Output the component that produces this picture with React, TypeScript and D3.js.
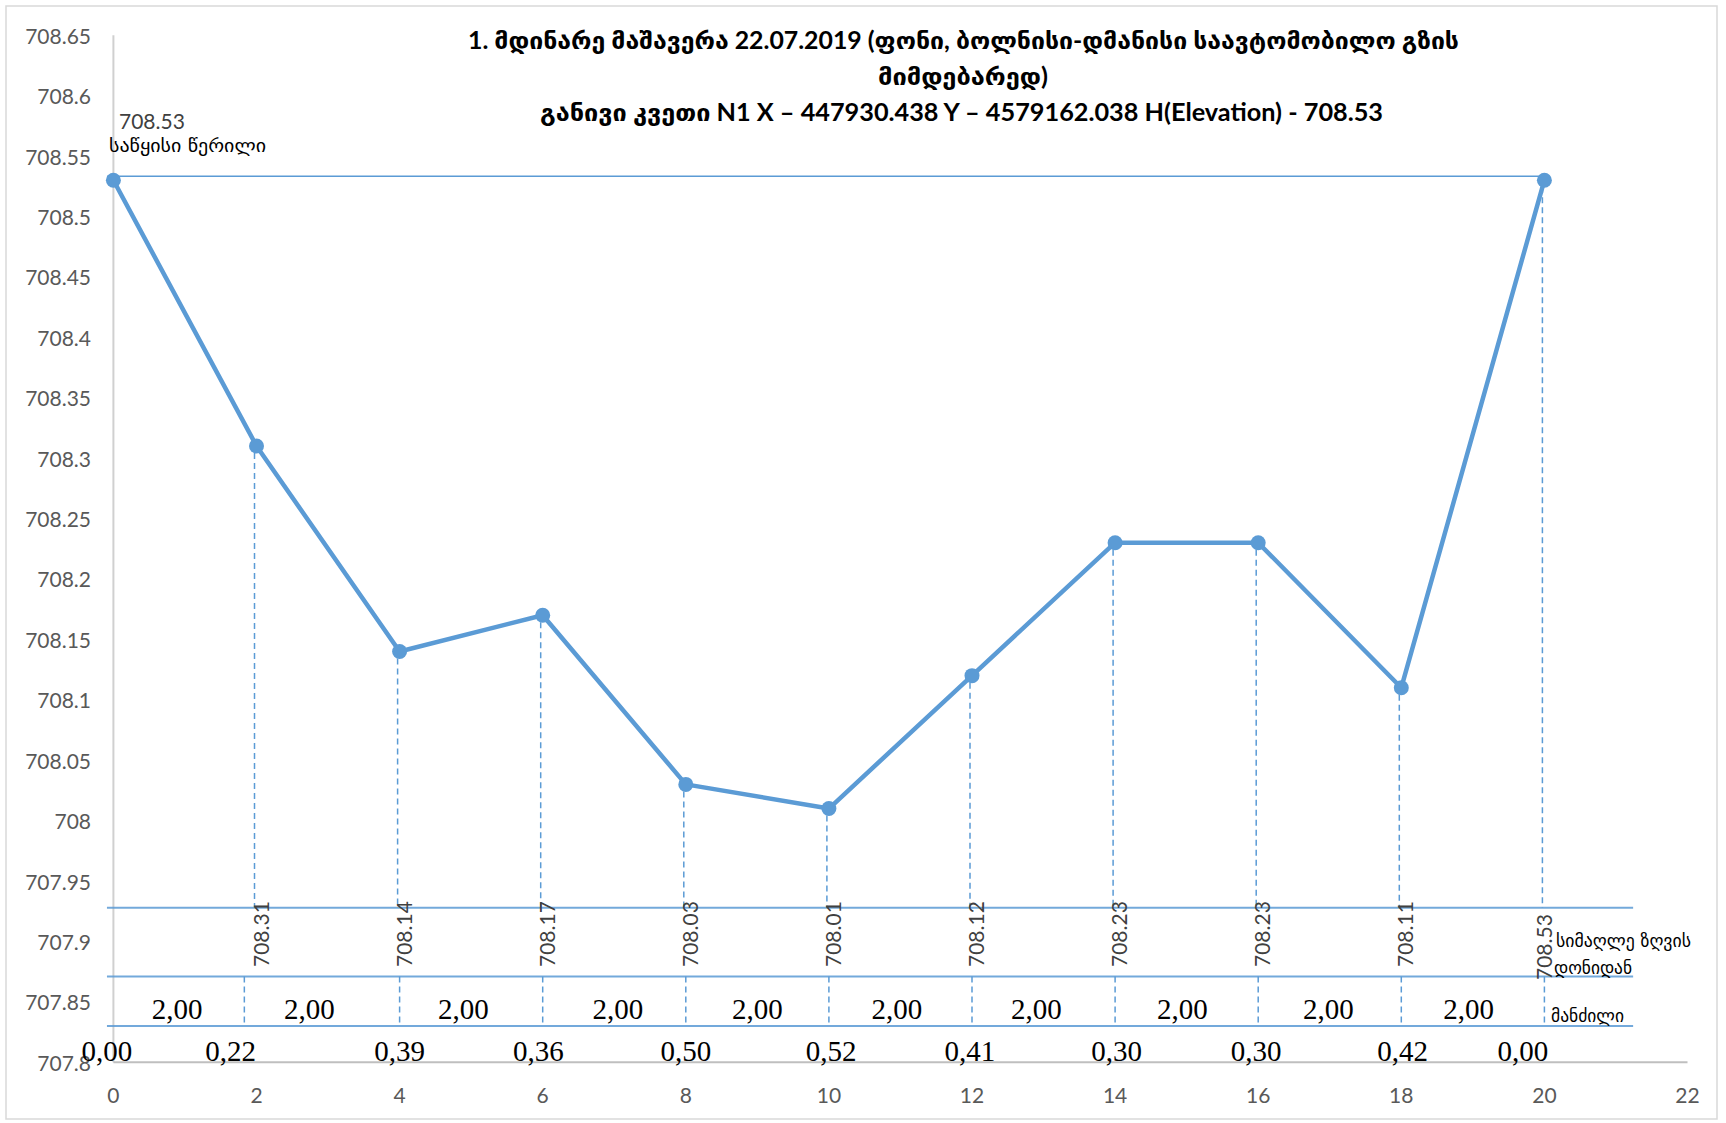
import React from 'react';
import * as d3 from 'd3';

// Cross-section stations (distance along the section, m) and surveyed elevations (m a.s.l.)
const stations = [0, 2, 4, 6, 8, 10, 12, 14, 16, 18, 20];
const elevations = [708.53, 708.31, 708.14, 708.17, 708.03, 708.01, 708.12, 708.23, 708.23, 708.11, 708.53];

// Water depths written under each station and where each reading sits along the section
const depths = [0.0, 0.22, 0.39, 0.36, 0.5, 0.52, 0.41, 0.3, 0.3, 0.42, 0.0];
const depthLabelAt = [-0.09, 1.64, 4.0, 5.94, 8.0, 10.03, 11.97, 14.02, 15.97, 18.02, 19.7];

// Where each span-length caption sits along the section
const spanLabelAt = [0.89, 2.74, 4.89, 7.05, 9.0, 10.95, 12.9, 14.94, 16.98, 18.94];

// Column separators of the distance row
const separatorAt = [1.83, 4, 6, 8, 10, 12, 14, 16, 18, 20];

// Horizontal rules of the table under the profile (elevation levels)
const tableLevels = [707.928, 707.871, 707.83];

const yTicks = [708.65, 708.6, 708.55, 708.5, 708.45, 708.4, 708.35, 708.3, 708.25, 708.2, 708.15, 708.1, 708.05, 708, 707.95, 707.9, 707.85, 707.8];
const xTicks = [0, 2, 4, 6, 8, 10, 12, 14, 16, 18, 20, 22];

const titleLines = [
  '1. მდინარე მაშავერა 22.07.2019 (ფონი, ბოლნისი-დმანისი საავტომობილო გზის',
  'მიმდებარედ)',
  'განივი კვეთი N1  X – 447930.438 Y – 4579162.038 H(Elevation) - 708.53',
];
const startLabel = ['708.53', 'საწყისი წერილი'];
const elevationRowLabel = ['სიმაღლე ზღვის', 'დონიდან'];
const distanceRowLabel = 'მანძილი';

const W = 1726;
const H = 1123;
const BLUE = '#5B9BD5';
const GEO = "'DejaVu Sans', 'Noto Sans', sans-serif";
const TICK_FONT = "Lato, 'Open Sans', sans-serif";
const SERIF = "'Liberation Serif', 'Times New Roman', serif";

const comma = (v: number) => d3.format('.2f')(v).replace('.', ',');

export default function App() {
  const x = d3.scaleLinear().domain([0, 22]).range([113.4, 1687.5]);
  const y = d3.scaleLinear().domain([707.8, 708.65]).range([1062.3, 35.2]);

  const pts = stations.map((s, i) => ({ s, e: elevations[i] }));
  const line = d3
    .line<{ s: number; e: number }>()
    .x((d) => x(d.s))
    .y((d) => y(d.e));

  const [tTop, tMid, tBot] = tableLevels.map((v) => y(v));
  const tableLeft = x(-0.09);
  const tableRight = x(21.24);
  const last = stations.length - 1;

  const spans = stations.slice(1).map((s, i) => s - stations[i]);

  return (
    <svg
      width={W}
      height={H}
      style={{ position: 'absolute', left: 0, top: 0, background: '#fff' }}
    >
      <rect x={6} y={6} width={1711} height={1113} fill="#fff" stroke="#d9d9d9" strokeWidth={1.5} />

      {/* title */}
      <g fontFamily={`Lato, ${GEO}`} fontWeight="bold" fontSize={24} fill="#000" textAnchor="middle">
        <text x={963.5} y={49} textLength={991} lengthAdjust="spacingAndGlyphs">
          {titleLines[0]}
        </text>
        <text x={963} y={85} textLength={170} lengthAdjust="spacingAndGlyphs">
          {titleLines[1]}
        </text>
        <text x={961.5} y={121} textLength={843} lengthAdjust="spacingAndGlyphs">
          {titleLines[2]}
        </text>
      </g>

      {/* axes */}
      <line x1={x(0)} x2={x(0)} y1={y(708.65)} y2={y(707.8)} stroke="#d0d0d0" strokeWidth={2} />
      <line x1={x(0)} x2={x(22)} y1={y(707.8)} y2={y(707.8)} stroke="#bfbfbf" strokeWidth={2} />
      <g fontFamily={TICK_FONT} fontSize={21} fill="#595959">
        {yTicks.map((t) => (
          <text key={t} x={91} y={y(t)} textAnchor="end" dominantBaseline="central">
            {String(t)}
          </text>
        ))}
        {xTicks.map((t) => (
          <text key={t} x={x(t)} y={1094} textAnchor="middle" dominantBaseline="central">
            {String(t)}
          </text>
        ))}
      </g>

      {/* reference level of the starting point */}
      <line
        x1={tableLeft}
        x2={x(stations[last])}
        y1={y(elevations[0]) - 4}
        y2={y(elevations[0]) - 4}
        stroke={BLUE}
        strokeWidth={1.6}
      />

      {/* table rules */}
      {[tTop, tMid, tBot].map((ty, i) => (
        <line key={i} x1={tableLeft} x2={tableRight} y1={ty} y2={ty} stroke={BLUE} strokeWidth={2} opacity={0.85} />
      ))}

      {/* drop lines from the profile to the table */}
      {pts.slice(1).map((p, i) => (
        <line
          key={i}
          x1={x(p.s) - 2}
          x2={x(p.s) - 2}
          y1={y(p.e) + 7}
          y2={tTop}
          stroke={BLUE}
          strokeWidth={1.5}
          strokeDasharray="6,4"
        />
      ))}
      {separatorAt.map((s, i) => (
        <line
          key={i}
          x1={x(s)}
          x2={x(s)}
          y1={tMid}
          y2={tBot}
          stroke={BLUE}
          strokeWidth={1.5}
          strokeDasharray="6,4"
        />
      ))}

      {/* profile */}
      <path d={line(pts) || ''} fill="none" stroke={BLUE} strokeWidth={4.5} strokeLinejoin="round" />
      {pts.map((p, i) => (
        <circle key={i} cx={x(p.s)} cy={y(p.e)} r={7.5} fill={BLUE} />
      ))}

      {/* start point label */}
      <text x={119} y={120} fontFamily={TICK_FONT} fontSize={21} fill="#404040" dominantBaseline="central">
        {startLabel[0]}
      </text>
      <text x={109} y={145} fontFamily={GEO} fontSize={18} fill="#000" dominantBaseline="central" textLength={157} lengthAdjust="spacingAndGlyphs">
        {startLabel[1]}
      </text>

      {/* elevation row */}
      {pts.slice(1).map((p, i) => {
        const isLast = i === last - 1;
        const bx = x(p.s) + (isLast ? 8 : 12);
        const by = isLast ? 980 : 967;
        return (
          <text
            key={i}
            transform={`translate(${bx},${by}) rotate(-90)`}
            fontFamily={TICK_FONT}
            fontSize={21}
            fill="#404040"
          >
            {d3.format('.2f')(p.e)}
          </text>
        );
      })}

      {/* distance row */}
      <g fontFamily={SERIF} fontSize={29} fill="#000" textAnchor="middle">
        {spans.map((d, i) => (
          <text key={i} x={x(spanLabelAt[i])} y={1019}>
            {comma(d)}
          </text>
        ))}
        {depths.map((d, i) => (
          <text key={i} x={x(depthLabelAt[i])} y={1061}>
            {comma(d)}
          </text>
        ))}
      </g>

      {/* row captions */}
      <g fontFamily={GEO} fontSize={18} fill="#000">
        <text x={1556} y={940} dominantBaseline="central" textLength={135} lengthAdjust="spacingAndGlyphs">
          {elevationRowLabel[0]}
        </text>
        <text x={1554} y={967} dominantBaseline="central" textLength={78} lengthAdjust="spacingAndGlyphs">
          {elevationRowLabel[1]}
        </text>
        <text x={1551} y={1015} dominantBaseline="central" textLength={73} lengthAdjust="spacingAndGlyphs">
          {distanceRowLabel}
        </text>
      </g>
    </svg>
  );
}
